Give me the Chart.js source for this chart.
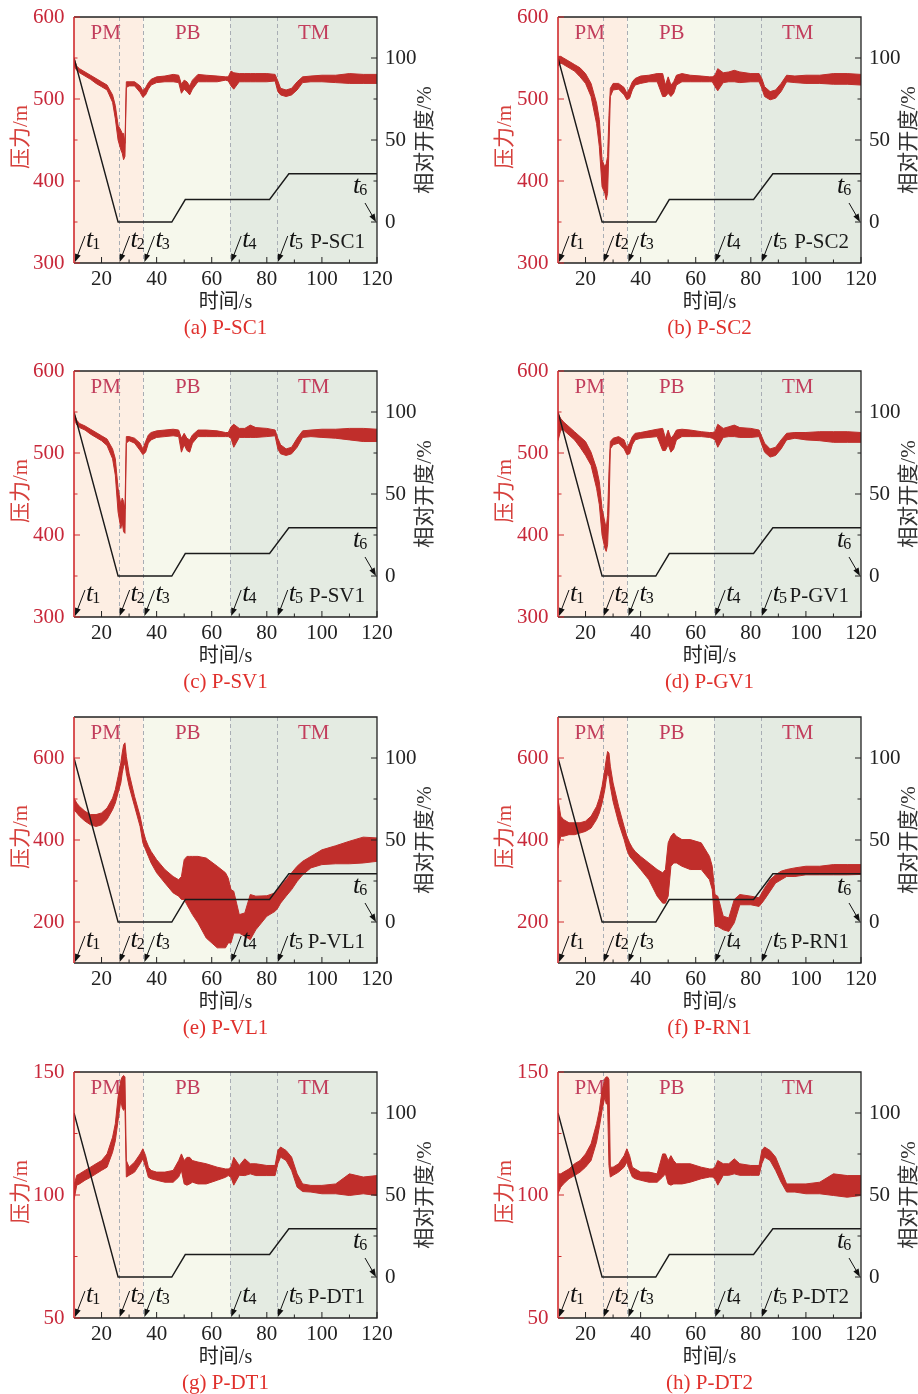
<!DOCTYPE html>
<html>
<head>
<meta charset="utf-8">
<script src="https://cdn.jsdelivr.net/npm/chart.js@4/dist/chart.umd.min.js"></script>
<style>
  body { margin: 0; background: #fff; width: 918px; height: 1394px; position: relative; overflow: hidden; }
  .cell { position: absolute; width: 440px; height: 345px; }
</style>
</head>
<body>
<div class="cell" style="left:0;top:0"><canvas id="c0" width="440" height="345"></canvas></div>
<div class="cell" style="left:484px;top:0"><canvas id="c1" width="440" height="345"></canvas></div>
<div class="cell" style="left:0;top:354px"><canvas id="c2" width="440" height="345"></canvas></div>
<div class="cell" style="left:484px;top:354px"><canvas id="c3" width="440" height="345"></canvas></div>
<div class="cell" style="left:0;top:700px"><canvas id="c4" width="440" height="345"></canvas></div>
<div class="cell" style="left:484px;top:700px"><canvas id="c5" width="440" height="345"></canvas></div>
<div class="cell" style="left:0;top:1055px"><canvas id="c6" width="440" height="345"></canvas></div>
<div class="cell" style="left:484px;top:1055px"><canvas id="c7" width="440" height="345"></canvas></div>
<script>
// time grid shared by all pressure traces (s)
const timeS = [10, 11, 12, 14, 16, 18, 20, 22, 24, 25, 26, 27, 27.5, 28, 28.5, 29, 30, 32, 34, 35,
  36, 37, 38, 40, 43, 46, 48, 49, 50, 51, 52, 53, 55, 58, 62, 65, 66, 67, 68, 70,
  72, 74, 76, 80, 83, 84, 85, 87, 89, 91, 93, 96, 100, 105, 110, 115, 120];

// pressure envelopes (upper / lower edge of the noisy trace), m
const sc1Hi = [550, 540, 537, 533, 529, 525, 521, 517, 505, 492, 468, 462, 458, 458, 446, 521, 521, 521, 516, 510,
  514, 520, 524, 527, 528, 530, 529, 518, 523, 521, 516, 523, 530, 529, 528, 527, 527, 534, 532, 531,
  531, 531, 531, 531, 530, 522, 513, 511, 513, 521, 527, 528, 529, 529, 531, 530, 530];
const sc1Lo = [540, 535, 532, 528, 524, 519, 515, 511, 496, 476, 450, 438, 434, 426, 430, 514, 516, 516, 508, 502,
  505, 512, 517, 520, 521, 521, 520, 507, 512, 509, 505, 512, 521, 521, 521, 523, 522, 516, 512, 521,
  521, 521, 521, 521, 522, 509, 505, 503, 505, 511, 520, 521, 521, 520, 519, 519, 519];

const sc2Hi = [552, 552, 550, 546, 542, 538, 531, 519, 495, 475, 426, 417, 421, 430, 480, 513, 519, 519, 514, 507,
  513, 521, 525, 528, 529, 531, 531, 517, 527, 517, 521, 529, 531, 529, 528, 527, 527, 529, 537, 532,
  533, 535, 533, 531, 531, 525, 515, 509, 511, 519, 529, 528, 529, 529, 531, 531, 530];
const sc2Lo = [540, 544, 542, 538, 534, 527, 519, 503, 470, 442, 393, 385, 377, 385, 440, 503, 511, 512, 505, 499,
  501, 511, 517, 519, 521, 521, 503, 503, 507, 503, 507, 517, 521, 521, 521, 521, 521, 515, 510, 520,
  521, 521, 520, 521, 521, 513, 503, 499, 501, 509, 521, 520, 519, 519, 518, 518, 517];

const sv1Hi = [548, 540, 536, 533, 529, 525, 521, 517, 505, 493, 457, 437, 445, 441, 432, 520, 520, 518, 512, 505,
  514, 522, 525, 527, 528, 529, 528, 518, 524, 518, 516, 522, 528, 528, 527, 525, 525, 532, 535, 530,
  530, 534, 531, 530, 528, 518, 510, 505, 507, 518, 527, 528, 529, 529, 530, 530, 529];
const sv1Lo = [542, 534, 531, 528, 523, 519, 515, 509, 493, 473, 428, 408, 416, 404, 402, 512, 515, 512, 503, 498,
  501, 512, 516, 519, 520, 521, 520, 501, 510, 503, 501, 512, 520, 520, 520, 520, 520, 518, 507, 519,
  519, 519, 519, 520, 521, 505, 499, 497, 499, 507, 519, 520, 519, 518, 516, 514, 514];

const gv1Hi = [548, 542, 538, 532, 526, 520, 514, 501, 481, 465, 432, 416, 408, 424, 477, 514, 518, 520, 516, 507,
  512, 520, 524, 525, 527, 529, 530, 518, 528, 518, 522, 528, 529, 528, 526, 525, 525, 526, 535, 530,
  532, 534, 531, 530, 528, 520, 512, 505, 507, 516, 524, 525, 525, 526, 526, 526, 525];
const gv1Lo = [515, 528, 528, 522, 516, 507, 497, 485, 457, 437, 400, 384, 380, 388, 428, 505, 510, 512, 505, 498,
  499, 510, 516, 518, 519, 520, 503, 503, 510, 501, 505, 516, 520, 520, 520, 519, 518, 516, 507, 519,
  520, 520, 519, 519, 520, 510, 501, 495, 497, 505, 516, 518, 516, 515, 513, 513, 513];

const vl1Hi = [502, 490, 482, 470, 462, 462, 466, 478, 502, 523, 555, 588, 612, 632, 637, 604, 563, 506, 458, 425,
  401, 385, 372, 352, 328, 311, 303, 311, 352, 360, 360, 360, 360, 356, 336, 320, 307, 279, 275, 218,
  222, 267, 263, 264, 271, 279, 287, 303, 320, 336, 348, 360, 376, 386, 397, 407, 405];
const vl1Lo = [474, 466, 458, 446, 437, 433, 437, 450, 474, 490, 515, 539, 563, 580, 588, 563, 531, 482, 433, 393,
  376, 360, 344, 320, 295, 271, 263, 255, 255, 242, 230, 218, 198, 161, 137, 137, 149, 149, 173, 173,
  165, 157, 181, 214, 226, 234, 246, 263, 279, 299, 315, 332, 340, 342, 342, 344, 348];

const rn1Hi = [500, 458, 450, 442, 442, 442, 446, 458, 482, 502, 531, 572, 596, 616, 612, 580, 539, 482, 433, 409,
  393, 381, 372, 360, 344, 328, 320, 328, 393, 409, 417, 409, 401, 401, 393, 360, 336, 267, 263, 214,
  210, 255, 267, 263, 259, 271, 283, 303, 315, 324, 328, 332, 336, 336, 340, 340, 340];
const rn1Lo = [380, 409, 409, 413, 413, 417, 421, 429, 450, 466, 490, 523, 547, 563, 555, 531, 494, 442, 401, 376,
  360, 352, 344, 328, 303, 263, 246, 246, 263, 336, 344, 344, 336, 328, 328, 303, 279, 189, 189, 181,
  177, 198, 242, 242, 238, 246, 255, 275, 295, 303, 311, 311, 315, 315, 315, 315, 316];

const dt1Hi = [104, 108, 108.6, 110, 111.3, 112.7, 114, 116.7, 123.5, 129, 139.8, 146.6, 148, 148.6, 148, 114, 111.3, 113.4, 116.7, 118.8,
  116, 111.3, 110, 109.3, 109.3, 110, 114, 116.7, 114, 115.3, 115.3, 114, 113.4, 112.7, 111.3, 110.6, 110.6, 111.3, 115.3, 112,
  114.7, 112.7, 112.7, 112, 112, 118.1, 119.5, 118.1, 115.4, 108.6, 104.5, 103.9, 103.9, 104.5, 108.6, 107.3, 107.9];
const dt1Lo = [98, 104, 104.5, 106, 107.2, 108.6, 110, 111.3, 117.4, 122, 130.3, 138.5, 135.5, 134.4, 135.5, 107.3, 108, 109.3, 112.7, 114.7,
  111.3, 107.2, 106.6, 106, 105.2, 105.2, 107.3, 110, 104.5, 104, 104.5, 105.2, 104.5, 104.5, 106, 107.2, 107.9, 107.2, 104, 108,
  107.9, 108.6, 107.9, 107.9, 107.9, 112.7, 115.4, 114, 110, 103.2, 101.4, 101.2, 100.5, 100.5, 99.8, 100.5, 99.8];

const dt2Hi = [108.6, 108.6, 109.3, 110.6, 112.7, 114, 116.7, 120.8, 129, 134.4, 142.5, 147.3, 148, 148, 147, 111.3, 111.3, 112.7, 116, 118.8,
  116, 111.3, 110.6, 109.3, 109.3, 108.6, 116.7, 116.7, 114, 116, 114, 112.7, 112.7, 112.7, 111.3, 110.6, 110.6, 111.3, 114, 112.7,
  112.7, 114.7, 112.7, 112, 112, 118.1, 119.5, 118.1, 115.4, 110, 104.5, 104.5, 104.5, 105.2, 108.6, 107.9, 107.9];
const dt2Lo = [100.5, 103.2, 104.5, 106.6, 107.9, 109.3, 111.3, 114, 121.5, 127.6, 134.4, 139.8, 137, 137, 112, 107.3, 108, 109.3, 111.3, 113.4,
  110, 107.3, 106.6, 106, 105.2, 105.2, 107.3, 108.6, 104.5, 104, 104.5, 104.5, 104.5, 105.2, 106.6, 107.3, 107.3, 106.6, 104, 108,
  108, 108.6, 108, 108, 108, 112.7, 115.4, 114, 110, 105.2, 101.2, 101.2, 100.5, 100.5, 99.8, 99.1, 99.8];

// relative valve opening, %
const openT = [10, 26, 45.5, 50.4, 81, 88, 120];
const openV = [100, 0, 0, 13.7, 13.7, 29.4, 29.4];

// event times t1..t5 and stage bands
const markT = [10, 26.2, 35.2, 66.7, 83.6];
const phaseNames = ['PM', 'PB', 'TM'];
const phaseFrom = [10, 35.2, 66.7];
const phaseTo = [35.2, 66.7, 120];
const phaseLabelT = [21.5, 51.3, 97];

// axis ticks
const xMajor = [20, 40, 60, 80, 100, 120];
const xMinor = [30, 50, 70, 90, 110];
const openMajor = [0, 50, 100];
const openMinor = [25, 75];
const scMajor = [300, 400, 500, 600], scMinor = [350, 450, 550];
const vlMajor = [200, 400, 600], vlMinor = [300, 500];
const dtMajor = [50, 100, 150], dtMinor = [75, 125];

const RED = 'rgb(192,46,43)';
const FONT = "'Liberation Serif', 'Noto Sans CJK SC', serif";
const phaseFill = ['#fdeee3', '#f6f8ec', '#e4ebe2'];

const panels = [
  { id: 'c0', hi: sc1Hi, lo: sc1Lo, yMin: 300, yMax: 600, major: scMajor, minor: scMinor, name: 'P-SC1', tag: '(a)' },
  { id: 'c1', hi: sc2Hi, lo: sc2Lo, yMin: 300, yMax: 600, major: scMajor, minor: scMinor, name: 'P-SC2', tag: '(b)' },
  { id: 'c2', hi: sv1Hi, lo: sv1Lo, yMin: 300, yMax: 600, major: scMajor, minor: scMinor, name: 'P-SV1', tag: '(c)' },
  { id: 'c3', hi: gv1Hi, lo: gv1Lo, yMin: 300, yMax: 600, major: scMajor, minor: scMinor, name: 'P-GV1', tag: '(d)' },
  { id: 'c4', hi: vl1Hi, lo: vl1Lo, yMin: 100, yMax: 700, major: vlMajor, minor: vlMinor, name: 'P-VL1', tag: '(e)' },
  { id: 'c5', hi: rn1Hi, lo: rn1Lo, yMin: 100, yMax: 700, major: vlMajor, minor: vlMinor, name: 'P-RN1', tag: '(f)' },
  { id: 'c6', hi: dt1Hi, lo: dt1Lo, yMin: 50, yMax: 150, major: dtMajor, minor: dtMinor, name: 'P-DT1', tag: '(g)' },
  { id: 'c7', hi: dt2Hi, lo: dt2Lo, yMin: 50, yMax: 150, major: dtMajor, minor: dtMinor, name: 'P-DT2', tag: '(h)' }
];

function toXY(xs, ys) {
  return xs.map((x, i) => ({ x: x, y: ys[i] }));
}

function arrow(ctx, x0, y0, x1, y1) {
  const ang = Math.atan2(y1 - y0, x1 - x0);
  const L = 8, W = 3;
  const c = Math.cos(ang), s = Math.sin(ang);
  ctx.beginPath();
  ctx.moveTo(x0, y0);
  ctx.lineTo(x1 - L * 0.7 * c, y1 - L * 0.7 * s);
  ctx.stroke();
  ctx.beginPath();
  ctx.moveTo(x1, y1);
  ctx.lineTo(x1 - L * c + W * s, y1 - L * s - W * c);
  ctx.lineTo(x1 - L * c - W * s, y1 - L * s + W * c);
  ctx.closePath();
  ctx.fill();
}

function tMark(ctx, x, y, n) {
  ctx.textAlign = 'left';
  ctx.textBaseline = 'alphabetic';
  ctx.font = 'italic 26px ' + FONT;
  ctx.fillText('t', x, y);
  const w = ctx.measureText('t').width;
  ctx.font = '16px ' + FONT;
  ctx.fillText(String(n), x + w - 1, y + 2);
}

function makeDecor(p) {
  return {
    id: 'decor',
    beforeDraw(chart) {
      const { ctx, chartArea: a, scales: { x } } = chart;
      ctx.save();
      // stage bands
      phaseFrom.forEach((f, i) => {
        const x0 = x.getPixelForValue(f), x1 = x.getPixelForValue(phaseTo[i]);
        ctx.fillStyle = phaseFill[i];
        ctx.fillRect(x0, a.top, x1 - x0, a.bottom - a.top);
      });
      // dashed event lines
      ctx.strokeStyle = '#a8adb4';
      ctx.lineWidth = 1;
      ctx.setLineDash([4, 3]);
      markT.slice(1).forEach(t => {
        const px = Math.round(x.getPixelForValue(t)) + 0.5;
        ctx.beginPath();
        ctx.moveTo(px, a.top);
        ctx.lineTo(px, a.bottom);
        ctx.stroke();
      });
      ctx.setLineDash([]);
      // stage names
      ctx.font = '21px ' + FONT;
      ctx.fillStyle = '#c23d5c';
      ctx.textAlign = 'center';
      ctx.textBaseline = 'middle';
      phaseNames.forEach((n, i) => ctx.fillText(n, x.getPixelForValue(phaseLabelT[i]), a.top + 16));
      ctx.restore();
    },
    afterDatasetsDraw(chart) {
      const { ctx, chartArea: a, scales: { x, y, y2 } } = chart;
      ctx.save();

      // frame
      ctx.lineWidth = 1.3;
      ctx.strokeStyle = '#222';
      ctx.beginPath();
      ctx.moveTo(a.left, a.top); ctx.lineTo(a.right, a.top); ctx.lineTo(a.right, a.bottom); ctx.lineTo(a.left, a.bottom);
      ctx.stroke();

      // x ticks (inward)
      ctx.lineWidth = 1;
      xMajor.forEach(v => { const px = x.getPixelForValue(v); ctx.beginPath(); ctx.moveTo(px, a.bottom); ctx.lineTo(px, a.bottom - 6); ctx.stroke(); });
      xMinor.forEach(v => { const px = x.getPixelForValue(v); ctx.beginPath(); ctx.moveTo(px, a.bottom); ctx.lineTo(px, a.bottom - 3.5); ctx.stroke(); });
      // right ticks
      openMajor.forEach(v => { const py = y2.getPixelForValue(v); ctx.beginPath(); ctx.moveTo(a.right, py); ctx.lineTo(a.right - 6, py); ctx.stroke(); });
      openMinor.forEach(v => { const py = y2.getPixelForValue(v); ctx.beginPath(); ctx.moveTo(a.right, py); ctx.lineTo(a.right - 3.5, py); ctx.stroke(); });

      // left axis in red
      ctx.strokeStyle = '#d02a2e';
      ctx.lineWidth = 1.6;
      ctx.beginPath(); ctx.moveTo(a.left, a.top); ctx.lineTo(a.left, a.bottom); ctx.stroke();
      ctx.lineWidth = 1;
      p.major.forEach(v => { const py = y.getPixelForValue(v); ctx.beginPath(); ctx.moveTo(a.left, py); ctx.lineTo(a.left + 6, py); ctx.stroke(); });
      p.minor.forEach(v => { const py = y.getPixelForValue(v); ctx.beginPath(); ctx.moveTo(a.left, py); ctx.lineTo(a.left + 3.5, py); ctx.stroke(); });

      // tick labels
      ctx.font = '21px ' + FONT;
      ctx.textBaseline = 'middle';
      ctx.fillStyle = '#c8283a';
      ctx.textAlign = 'right';
      p.major.forEach(v => ctx.fillText(String(v), a.left - 9.5, y.getPixelForValue(v)));
      ctx.fillStyle = '#222';
      ctx.textAlign = 'left';
      openMajor.forEach(v => ctx.fillText(String(v), a.right + 8, y2.getPixelForValue(v)));
      ctx.textAlign = 'center';
      xMajor.forEach(v => ctx.fillText(String(v), x.getPixelForValue(v), a.bottom + 16));

      // axis titles
      const midY = (a.top + a.bottom) / 2, midX = (a.left + a.right) / 2;
      ctx.font = '20px ' + FONT;
      ctx.fillText('时间/s', midX, a.bottom + 40);
      ctx.font = '21px ' + FONT;
      ctx.save();
      ctx.translate(a.left - 53, midY - 3);
      ctx.rotate(-Math.PI / 2);
      ctx.fillStyle = '#d6403c';
      ctx.fillText('压力/m', 0, 0);
      ctx.restore();
      ctx.save();
      ctx.translate(a.right + 48, midY);
      ctx.rotate(-Math.PI / 2);
      ctx.fillStyle = '#333';
      ctx.fillText('相对开度/%', 0, 0);
      ctx.restore();

      // caption
      ctx.fillStyle = '#e0302c';
      ctx.font = '21px ' + FONT;
      ctx.fillText(p.tag + ' ' + p.name, midX, a.bottom + 65);

      // series name
      ctx.fillStyle = '#1a1a1a';
      ctx.textAlign = 'right';
      ctx.fillText(p.name, a.right - 12, a.bottom - 21);

      // event arrows t1..t5
      ctx.strokeStyle = '#111';
      ctx.fillStyle = '#111';
      ctx.lineWidth = 1;
      markT.forEach((t, i) => {
        const tx = x.getPixelForValue(t) + 1, ty = a.bottom - 1;
        const sx = tx + 10, sy = ty - 26;
        arrow(ctx, sx, sy, tx, ty);
        tMark(ctx, sx + 1, a.bottom - 16, i + 1);
      });
      // t6 at the end of the opening trace
      const ex = a.right - 1, ey = y2.getPixelForValue(0);
      arrow(ctx, ex - 11, ey - 19, ex, ey);
      tMark(ctx, ex - 23, ey - 29, 6);

      ctx.restore();
    }
  };
}

panels.forEach(p => {
  new Chart(document.getElementById(p.id), {
    type: 'line',
    data: {
      datasets: [
        {
          data: toXY(openT, openV), yAxisID: 'y2',
          borderColor: '#1a1a1a', borderWidth: 1.4, pointRadius: 0, fill: false, tension: 0
        },
        {
          data: toXY(timeS, p.hi), yAxisID: 'y',
          borderColor: RED, backgroundColor: RED, borderWidth: 1, pointRadius: 0, fill: '+1', tension: 0
        },
        {
          data: toXY(timeS, p.lo), yAxisID: 'y',
          borderColor: RED, borderWidth: 1, pointRadius: 0, fill: false, tension: 0
        }
      ]
    },
    options: {
      responsive: false,
      animation: false,
      events: [],
      layout: { padding: { left: 74, top: 17, right: 63, bottom: 82 } },
      plugins: { legend: { display: false }, tooltip: { enabled: false } },
      scales: {
        x: { type: 'linear', min: 10, max: 120, display: false },
        y: { type: 'linear', min: p.yMin, max: p.yMax, display: false },
        y2: { type: 'linear', min: -25, max: 125, display: false }
      }
    },
    plugins: [makeDecor(p)]
  });
});
</script>
</body>
</html>
